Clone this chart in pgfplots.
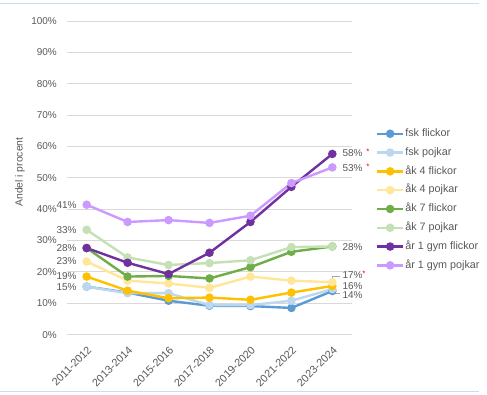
\documentclass[border=0pt]{standalone}
\usepackage{fontspec}
\setmainfont{Liberation Sans}
\usepackage{pgfplots}
\pgfplotsset{compat=1.18}
\definecolor{txt}{HTML}{595959}
\definecolor{gridc}{HTML}{D9D9D9}
\definecolor{edge}{HTML}{C9DCF2}
\definecolor{c1}{HTML}{5B9BD5}
\definecolor{c2}{HTML}{BDD7EE}
\definecolor{c3}{HTML}{FFC000}
\definecolor{c4}{HTML}{FFE699}
\definecolor{c5}{HTML}{70AD47}
\definecolor{c6}{HTML}{C5E0B4}
\definecolor{c7}{HTML}{7030A0}
\definecolor{c8}{HTML}{CC99FF}
\newcommand{\rstar}{\textcolor{red}{\raisebox{2bp}{\fontsize{8}{8}\selectfont*}}}
\begin{document}
\begin{tikzpicture}[x=1bp,y=1bp]
\path[use as bounding box, fill=white] (0,0) rectangle (487,394);
\draw[edge, line width=0.8bp] (0,390.5) -- (479,390.5);
\draw[edge, line width=0.8bp] (0,3) -- (479,3);
\begin{axis}[
  at={(67bp,59.4bp)}, anchor=south west,
  scale only axis, width=285bp, height=313.7bp,
  xmin=-0.48, xmax=6.48, ymin=0, ymax=100,
  axis line style={draw=none},
  major tick length=0pt,
  ymajorgrids, grid style={gridc, line width=0.75bp},
  xtick={0,...,6},
  xticklabels={2011-2012,2013-2014,2015-2016,2017-2018,2019-2020,2021-2022,2023-2024},
  ytick={0,10,...,100},
  yticklabel={\pgfmathprintnumber[assume math mode=true]{\tick}\%},
  tick label style={font=\fontsize{10}{12}\selectfont, text=txt},
  yticklabel style={anchor=east, inner sep=0pt, xshift=-10bp},
  xticklabel style={font=\fontsize{10.8}{12}\selectfont, xshift=3bp, yshift=-13.5bp, rotate=45, anchor=east, inner sep=0pt},
  ylabel={Andel i procent},
  ylabel style={at={(axis description cs:-0.165,0.518)}, anchor=center, rotate=0, font=\fontsize{10.4}{12}\selectfont, text=txt},
  every axis plot/.append style={line width=2.4bp, mark=*, mark size=3bp, mark options={solid}},
  legend style={at={(axis description cs:1.084,0.657)}, anchor=north west, draw=none, fill=none,
    inner sep=0pt, outer sep=0pt, font=\fontsize{10.8}{13}\selectfont, text=txt,
    row sep=8.3bp, column sep=1bp,
    nodes={inner sep=0pt, text height=8bp, text depth=2.5bp}, cells={anchor=west}},
  legend image code/.code={\draw[mark repeat=2, mark phase=2] plot coordinates {(0bp,0bp) (13bp,0bp) (26bp,0bp)};},
  clip=false,
]
\addplot[c1] coordinates {(0,15.3) (1,13.4) (2,10.8) (3,9.2) (4,9.1) (5,8.5) (6,13.9)};
\addlegendentry{fsk flickor}
\addplot[c2] coordinates {(0,15.3) (1,13.2) (2,13.2) (3,9.4) (4,9.4) (5,10.8) (6,14.5)};
\addlegendentry{fsk pojkar}
\addplot[c3] coordinates {(0,18.5) (1,14.0) (2,11.6) (3,11.8) (4,11.1) (5,13.4) (6,15.5)};
\addlegendentry{åk 4 flickor}
\addplot[c4] coordinates {(0,23.3) (1,17.2) (2,16.3) (3,14.9) (4,18.5) (5,17.2) (6,16.7)};
\addlegendentry{åk 4 pojkar}
\addplot[c5] coordinates {(0,27.6) (1,18.5) (2,18.7) (3,17.9) (4,21.5) (5,26.4) (6,28.1)};
\addlegendentry{åk 7 flickor}
\addplot[c6] coordinates {(0,33.4) (1,24.6) (2,22.2) (3,22.8) (4,23.7) (5,27.9) (6,28.1)};
\addlegendentry{åk 7 pojkar}
\addplot[c7] coordinates {(0,27.6) (1,22.9) (2,19.3) (3,26.1) (4,35.9) (5,47.1) (6,57.6)};
\addlegendentry{år 1 gym flickor}
\addplot[c8] coordinates {(0,41.4) (1,35.9) (2,36.5) (3,35.6) (4,37.9) (5,48.3) (6,53.3)};
\addlegendentry{år 1 gym pojkar}
% data labels
\begin{scope}[every node/.style={font=\fontsize{10}{12}\selectfont, text=txt, inner sep=0pt}]
\node[anchor=east, xshift=-10bp] at (axis cs:0,41.4) {41\%};
\node[anchor=east, xshift=-10bp] at (axis cs:0,33.4) {33\%};
\node[anchor=east, xshift=-10bp] at (axis cs:0,27.6) {28\%};
\node[anchor=east, xshift=-10bp] at (axis cs:0,23.3) {23\%};
\node[anchor=east, xshift=-10bp] at (axis cs:0,18.5) {19\%};
\node[anchor=east, xshift=-10bp] at (axis cs:0,15.1) {15\%};
\node[anchor=west, xshift=10bp] at (axis cs:6,57.8) {58\%\hspace{4bp}\rstar};
\node[anchor=west, xshift=10bp] at (axis cs:6,53.2) {53\%\hspace{4bp}\rstar};
\node[anchor=west, xshift=10bp] at (axis cs:6,28.0) {28\%};
\node[anchor=west, xshift=10bp] at (axis cs:6,19.0) {17\%\rstar};
\node[anchor=west, xshift=10bp] at (axis cs:6,15.6) {16\%};
\node[anchor=west, xshift=10bp] at (axis cs:6,12.6) {14\%};
\end{scope}
\draw[gray!70, line width=0.6bp] (axis cs:6,17.4) -- (axis cs:6,18.7) -- (axis cs:6.18,18.7);
\draw[gray!70, line width=0.6bp] (axis cs:6,14.4) -- (axis cs:6,13.3) -- (axis cs:6.18,13.3);
\end{axis}
\end{tikzpicture}
\end{document}
